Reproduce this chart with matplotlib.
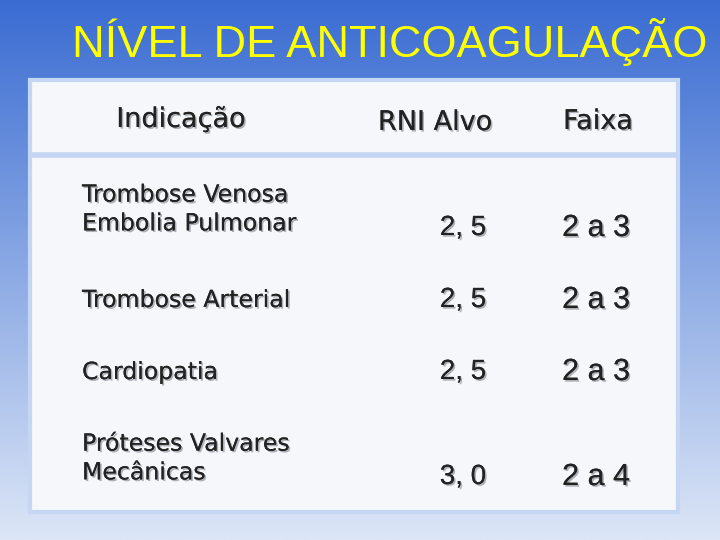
import numpy as np
import matplotlib
matplotlib.use("Agg")
import matplotlib.pyplot as plt
import matplotlib.patheffects as pe
from matplotlib.patches import Rectangle

title = "NÍVEL DE ANTICOAGULAÇÃO"
headers = ["Indicação", "RNI Alvo", "Faixa"]
indicacoes = ["Trombose Venosa\nEmbolia Pulmonar", "Trombose Arterial", "Cardiopatia",
              "Próteses Valvares\nMecânicas"]
rni_alvo = ["2, 5", "2, 5", "2, 5", "3, 0"]
faixa = ["2 a 3", "2 a 3", "2 a 3", "2 a 4"]

plt.rcParams['font.family'] = ['Liberation Sans', 'DejaVu Sans']
W, H = 720, 540
fig = plt.figure(figsize=(7.2, 5.4), dpi=100)
ax = fig.add_axes([0, 0, 1, 1])
ax.set_xlim(0, W); ax.set_ylim(H, 0); ax.axis('off')

top = np.array([0x3a, 0x6c, 0xd2]) / 255
bot = np.array([0xdc, 0xe6, 0xf6]) / 255
t = np.linspace(0, 1, 256)[:, None]
grad = (top * (1 - t) + bot * t)[:, None, :].repeat(2, axis=1)
ax.imshow(grad, extent=[0, W, H, 0], aspect='auto', zorder=0)

ax.add_patch(Rectangle((30, 80), 648, 432, facecolor='#f5f7fb', edgecolor='#c4d6f2', lw=3, zorder=1))
ax.plot([32, 676], [155, 155], color='#c4d6f2', lw=4, zorder=2)

sh = [pe.withSimplePatchShadow(offset=(1.2, -1.2), shadow_rgbFace='#9aa0a8', alpha=0.8), pe.Normal()]
dv = ['DejaVu Sans']
ax.text(390, 42, title, fontsize=32.5, color='#ffff00', ha='center', va='center', zorder=3)

ax.text(181, 120, headers[0], fontsize=19.5, family=dv, color='#222222', ha='center', va='center', path_effects=sh, zorder=3)
ax.text(435, 123, headers[1], fontsize=19.5, family=dv, color='#222222', ha='center', va='center', path_effects=sh, zorder=3)
ax.text(598, 122, headers[2], fontsize=19.5, family=dv, color='#222222', ha='center', va='center', path_effects=sh, zorder=3)

row_y = [209, 300, 372, 458]
val_y = [228, 300, 372, 477]
for ind, r, f, y, vy in zip(indicacoes, rni_alvo, faixa, row_y, val_y):
    ax.text(82, y, ind, fontsize=17, family=dv, color='#222222', ha='left', va='center',
            linespacing=1.25, path_effects=sh, zorder=3)
    ax.text(463, vy, r, fontsize=20, color='#222222', ha='center', va='center', path_effects=sh, zorder=3)
    ax.text(596, vy, f, fontsize=22, color='#222222', ha='center', va='center', path_effects=sh, zorder=3)

fig.savefig("out.png", dpi=100)
